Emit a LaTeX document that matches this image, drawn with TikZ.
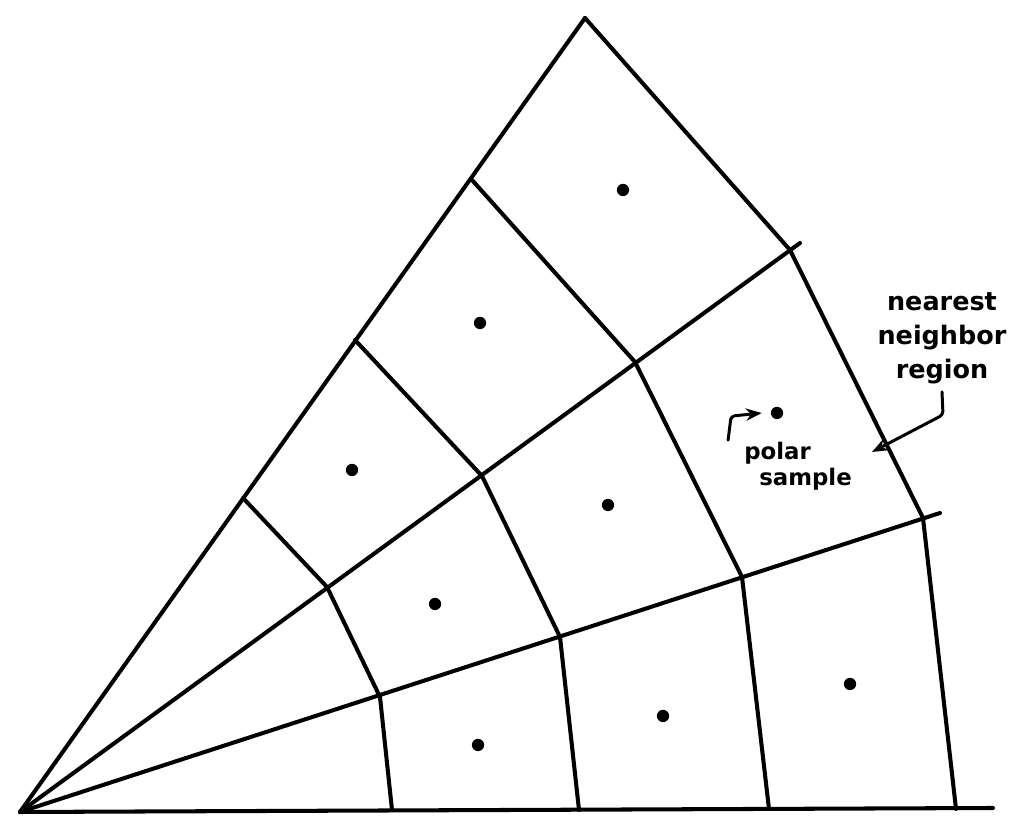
\documentclass[tikz,border=0pt]{standalone}
\usepackage{fontspec}
\setsansfont{DejaVu Sans}
\usepackage{tikz}
\usetikzlibrary{arrows.meta,positioning}

\begin{document}
\begin{tikzpicture}[
  cell/.style={line width=2.3pt, line join=round, line cap=round},
  sample/.style={circle, fill=black, inner sep=0pt, minimum size=7pt},
  note/.style={font=\sffamily\bfseries\fontsize{14.5}{19.5}\selectfont, align=center, inner sep=1pt},
  pointer/.style={-{Stealth[length=9pt,width=7pt]}, line width=1.7pt, line cap=round, rounded corners=2pt}
]
  \useasboundingbox (-0.4,-0.16) rectangle (19.8,16.24);

  % Polar grid corners
  \coordinate (o) at (0,0);
  \coordinate (p1-0) at (7.44,0.04);
  \coordinate (p2-0) at (11.18,0.04);
  \coordinate (p3-0) at (14.98,0.06);
  \coordinate (p4-0) at (18.72,0.06);
  \coordinate (e-0) at (19.46,0.08);
  \coordinate (p1-18) at (7.2,2.3);
  \coordinate (p2-18) at (10.8,3.5);
  \coordinate (p3-18) at (14.44,4.7);
  \coordinate (p4-18) at (18.06,5.88);
  \coordinate (e-18) at (18.4,5.98);
  \coordinate (p1-36) at (6.14,4.5);
  \coordinate (p2-36) at (9.24,6.72);
  \coordinate (p3-36) at (12.3,9.0);
  \coordinate (p4-36) at (15.4,11.24);
  \coordinate (e-36) at (15.6,11.38);
  \coordinate (p1-54) at (4.46,6.28);
  \coordinate (p2-54) at (6.7,9.44);
  \coordinate (p3-54) at (9.04,12.64);
  \coordinate (p4-54) at (11.3,15.88);

  % Rays
  \foreach \a in {0,18,36}
    \draw[cell] (o) -- (e-\a);
  \draw[cell] (o) -- (p4-54);

  % Cell boundaries between rings
  \foreach \k in {1,...,4}
    \draw[cell] (p\k-0) -- (p\k-18) -- (p\k-36) -- (p\k-54);

  % Polar samples
  \node[sample] (s1) at (9.16,1.34) {};
  \node[sample] (s2) at (12.86,1.92) {};
  \node[sample] (s3) at (16.6,2.56) {};
  \node[sample] (s4) at (8.3,4.16) {};
  \node[sample] (s5) at (11.76,6.14) {};
  \node[sample] (s6) at (15.14,7.98) {};
  \node[sample] (s7) at (6.64,6.84) {};
  \node[sample] (s8) at (9.2,9.78) {};
  \node[sample] (s9) at (12.06,12.44) {};

  % Annotations
  \node[note] (nnlabel) at (18.44,9.47) {nearest\\neighbor\\region};
  \coordinate (nntip) at (17.04,7.2);
  \draw[pointer] ([yshift=-3pt]nnlabel.south) -- ++(0.02,-0.46) -- (nntip);

  \node[note, font=\sffamily\bfseries\fontsize{13}{15}\selectfont, align=left] (pslabel) at (15.56,6.91) {polar\\\hspace*{0.3cm}sample};
  \draw[pointer] ([xshift=-8pt]pslabel.north west) -- ++(0.06,0.48) -- ([xshift=-5pt]s6.west);
\end{tikzpicture}
\end{document}
